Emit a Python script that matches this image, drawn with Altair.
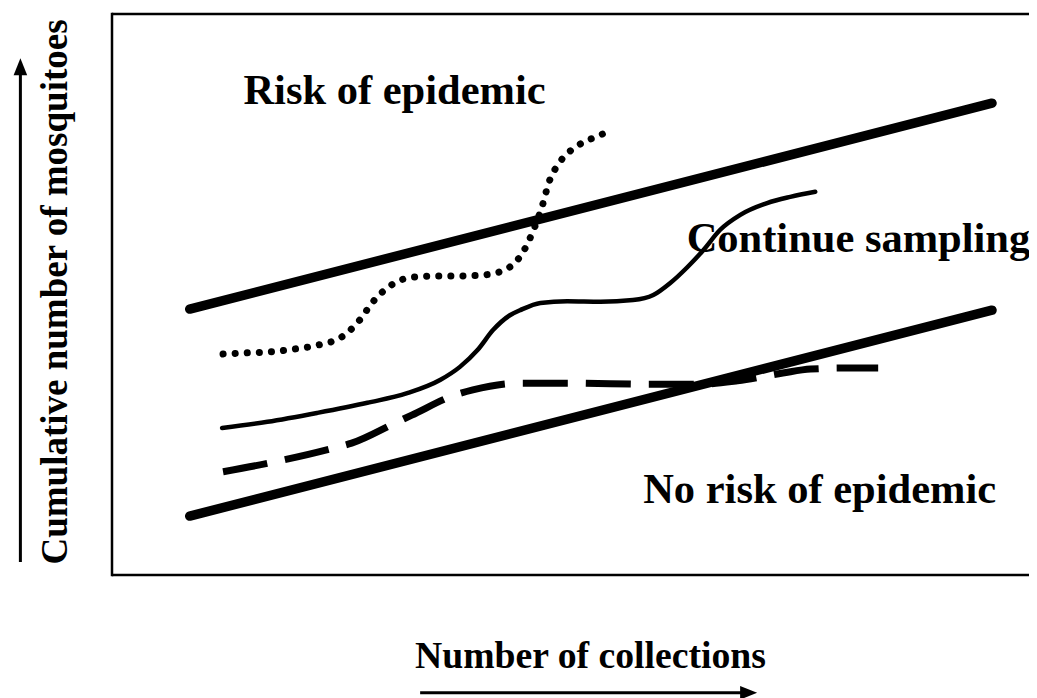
import altair as alt
import pandas as pd

# ---- data (abstract units: x 0-99.1 visible, y 0-100) ----
upper_x = [8.4, 95.1]
upper_y = [47.4, 84.1]
lower_x = [8.4, 95.1]
lower_y = [10.5, 47.2]

dotted_x = [12.0, 14.6, 17.2, 19.8, 22.3, 24.8, 26.7, 28.2, 30.2, 32.5, 35.1,
            37.7, 40.3, 42.8, 44.5, 45.6, 46.5, 47.2, 48.4, 50.3, 52.6, 53.0]
dotted_y = [39.4, 39.6, 39.8, 40.3, 41.0, 42.4, 45.3, 48.7, 51.7, 53.1, 53.3,
            53.3, 53.5, 54.7, 57.8, 61.7, 65.8, 69.9, 73.6, 76.5, 78.3, 78.6]

solid_x = [11.9, 16.8, 22.2, 27.6, 31.9, 35.5, 37.6, 39.5, 41.2, 43.0, 44.1, 46.3,
           49.2, 52.8, 56.3, 58.5, 60.3, 62.2, 63.9, 65.7, 67.9, 70.8, 73.3, 76.0]
solid_y = [26.2, 27.3, 28.9, 30.7, 32.4, 34.8, 37.1, 40.1, 43.7, 46.3, 47.2, 48.5,
           48.8, 48.7, 49.0, 49.9, 52.0, 54.9, 57.9, 61.5, 64.2, 66.3, 67.4, 68.3]

dashed_x = [12.0, 17.1, 23.9, 25.9, 30.6, 32.4, 37.1, 39.0, 44.1, 49.5, 58.2,
            63.6, 67.6, 72.5, 75.5, 79.6, 82.8]
dashed_y = [18.4, 20.0, 22.6, 23.5, 27.1, 28.5, 32.1, 33.0, 34.2, 34.2, 34.0,
            34.0, 34.6, 36.0, 36.7, 36.9, 36.9]

label_text = ["Risk of epidemic", "Continue sampling", "No risk of epidemic"]
label_x = [14.2, 62.1, 57.4]
label_y = [84.0, 57.6, 12.8]

# frame (left, top, bottom edges; right edge lies outside the picture)
frame_x_max = 99.1
frame_y_min = 0
frame_y_max = 100

# axis arrows (in the same data units, outside the frame)
yarrow_x = [-9.9]
yarrow_y = [2.3]
yarrow_y2 = [90.6]
xarrow_y = [-21.0]
xarrow_x = [33.3]
xarrow_x2 = [68.8]

x_title = "Number of collections"
y_title = "Cumulative number of mosquitoes"

FONT = "Liberation Serif"

xs = alt.Scale(domain=[0, frame_x_max], nice=False, zero=False)
ys = alt.Scale(domain=[frame_y_min, frame_y_max], nice=False, zero=False)

x_axis = alt.Axis(title=x_title, domain=False, ticks=False, labels=False, grid=False,
                  titleFont=FONT, titleFontSize=37.7, titleFontWeight="bold",
                  titleColor="black", titleX=478, titleY=92, titleAlign="center",
                  titleBaseline="alphabetic")
y_axis = alt.Axis(title=y_title, domain=False, ticks=False, labels=False, grid=False,
                  titleFont=FONT, titleFontSize=37, titleFontWeight="bold",
                  titleColor="black", titleX=-46, titleY=277.5, titleAlign="center",
                  titleBaseline="alphabetic", titleAngle=270)

X = alt.X("x:Q", scale=xs, axis=x_axis)
Y = alt.Y("y:Q", scale=ys, axis=y_axis)


def line_layer(xv, yv, **mk):
    df = pd.DataFrame({"x": xv, "y": yv})
    return alt.Chart(df).mark_line(color="black", **mk).encode(x=X, y=Y)


frame_h = alt.Chart(pd.DataFrame({"x": [0, 0], "x2": [frame_x_max, frame_x_max],
                                  "y": [frame_y_min, frame_y_max]})).mark_rule(
    color="black", strokeWidth=2.5
).encode(x=X, x2="x2:Q", y=Y)
frame_v = alt.Chart(pd.DataFrame({"x": [0], "y": [frame_y_min], "y2": [frame_y_max]})).mark_rule(
    color="black", strokeWidth=2.5, strokeCap="square"
).encode(x=X, y=Y, y2="y2:Q")

upper = line_layer(upper_x, upper_y, strokeWidth=9.5, strokeCap="round")
lower = line_layer(lower_x, lower_y, strokeWidth=9.5, strokeCap="round")
dotted = line_layer(dotted_x, dotted_y, strokeWidth=7, strokeCap="round",
                    strokeDash=[0.1, 12], interpolate="monotone")
solid = line_layer(solid_x, solid_y, strokeWidth=4.5, strokeCap="round",
                   interpolate="monotone")
dashed = line_layer(dashed_x, dashed_y, strokeWidth=7, strokeCap="butt",
                    strokeDash=[45, 18], interpolate="monotone")

labels = alt.Chart(pd.DataFrame({"x": label_x, "y": label_y, "t": label_text})).mark_text(
    font=FONT, fontSize=42.5, fontWeight="bold", color="black",
    align="left", baseline="alphabetic"
).encode(x=X, y=Y, text="t:N")

yarrow = alt.Chart(pd.DataFrame({"x": yarrow_x, "y": yarrow_y, "y2": yarrow_y2})).mark_rule(
    color="black", strokeWidth=3
).encode(x=X, y=Y, y2="y2:Q")
yhead = alt.Chart(pd.DataFrame({"x": yarrow_x, "y": yarrow_y2})).mark_point(
    shape="M0,-1L0.8,1L-0.8,1Z", size=289, filled=True, color="black", opacity=1
).encode(x=X, y=Y)

xarrow = alt.Chart(pd.DataFrame({"x": xarrow_x, "x2": xarrow_x2, "y": xarrow_y})).mark_rule(
    color="black", strokeWidth=3
).encode(x=X, x2="x2:Q", y=Y)
xhead = alt.Chart(pd.DataFrame({"x": xarrow_x2, "y": xarrow_y})).mark_point(
    shape="M1,0L-1,0.8L-1,-0.8Z", size=289, filled=True, color="black", opacity=1
).encode(x=X, y=Y)

chart = alt.layer(
    frame_h, frame_v, upper, lower, dotted, solid, dashed, labels,
    yarrow, yhead, xarrow, xhead
).properties(
    width=917, height=561,
    autosize=alt.AutoSizeParams(type="none"),
    padding={"left": 104, "top": 6, "right": 0, "bottom": 123},
).configure(
    background="white"
).configure_view(
    strokeWidth=0
)

chart.save("out.html", embed_options={"renderer": "svg", "actions": False})
